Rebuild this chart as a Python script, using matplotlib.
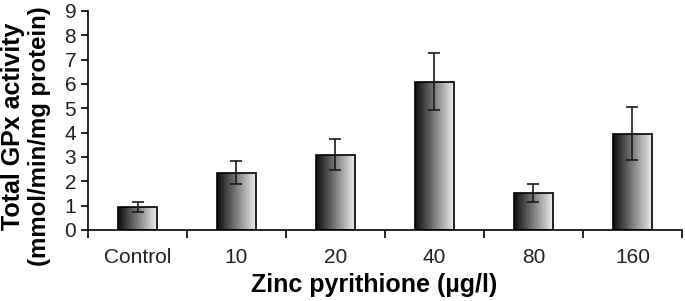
import numpy as np
import matplotlib
matplotlib.use('Agg')
import matplotlib.pyplot as plt
from matplotlib.colors import LinearSegmentedColormap

# data
categories = ['Control', '10', '20', '40', '80', '160']
values = [0.95, 2.35, 3.10, 6.10, 1.53, 3.96]
errors = [0.22, 0.48, 0.65, 1.18, 0.38, 1.10]

plt.rcParams['font.family'] = ['Liberation Sans', 'DejaVu Sans']

fig = plt.figure(figsize=(6.85, 3.01), dpi=100)
ax = fig.add_axes([0.1285, 0.2359, 0.867, 0.7276])

x = np.arange(len(categories))
bars = ax.bar(x, values, width=0.4, facecolor='none', edgecolor='black',
              linewidth=1.2, zorder=3)

# horizontal dark-to-light gradient in each bar
cmap = LinearSegmentedColormap.from_list('grad', ['#0d0d0d', '#f2f2f2'])
grad = np.linspace(0, 1, 256).reshape(1, -1)
for b in bars:
    bx, by = b.get_x(), b.get_y()
    w, h = b.get_width(), b.get_height()
    im = ax.imshow(grad, cmap=cmap, aspect='auto', extent=[bx, bx + w, by, by + h],
                   zorder=2, interpolation='bicubic')
    im.set_clip_path(b)

ax.errorbar(x, values, yerr=errors, fmt='none', ecolor='#1a1a1a',
            elinewidth=1.2, capsize=4, capthick=1.2, zorder=4)

ax.set_xlim(-0.5, len(categories) - 0.5)
ax.set_ylim(0, 9)
ax.set_yticks(range(10))
ax.set_xticks(x)
ax.set_xticklabels(categories)
ax.set_xticks(np.arange(-0.5, len(categories)), minor=True)
ax.tick_params(axis='x', which='major', length=0, pad=13, labelsize=15, labelcolor='#222222')
ax.tick_params(axis='x', which='minor', length=6, width=1.2, direction='out')
ax.tick_params(axis='y', length=5, width=1.2, labelsize=15, labelcolor='#222222')

for s in ['top', 'right']:
    ax.spines[s].set_visible(False)
for s in ['left', 'bottom']:
    ax.spines[s].set_linewidth(1.2)

ax.set_xlabel('Zinc pyrithione (µg/l)', fontsize=18, fontweight='bold')
ax.xaxis.set_label_coords(0.481, -0.195)

# two-line y label, placed as separate texts
fig.text(0.019, 0.581, 'Total GPx activity', rotation=90, ha='center', va='center',
         fontsize=18, fontweight='bold')
fig.text(0.058, 0.548, '(mmol/min/mg protein)', rotation=90, ha='center', va='center',
         fontsize=17.3, fontweight='bold')

fig.savefig('out.png', dpi=100)
